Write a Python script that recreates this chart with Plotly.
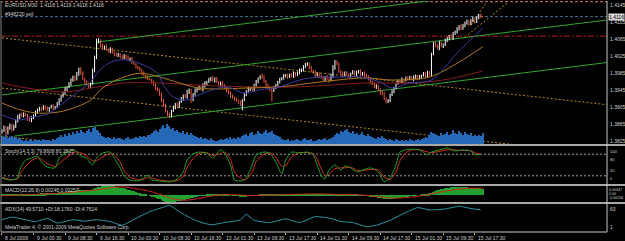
import plotly.graph_objects as go

# ---------------- data ----------------
BASE = 1.3800   # prices below are given in pips above this level
PIP = 0.0001

first_open_pips = 48
close_pips = [
    50, 58, 45, 55, 64, 52, 60,
    72, 82, 88, 85, 90, 86, 78, 74, 80, 86,
    94, 98, 103, 100, 106, 102, 98, 104, 108, 103, 106,
    114, 121,
    130, 138, 146, 152,
    160, 168, 176, 170,
    182, 196, 185, 172,
    165, 158, 154, 160,
    190, 222,
    258, 262,
    250, 244, 248, 240, 236, 242,
    234, 230, 226, 230, 224, 220, 226,
    222, 218, 220,
    210, 206, 200, 196, 192,
    184, 180, 176, 172, 170,
    164, 158, 150, 146,
    135, 122, 110, 96,
    88, 84,
    96, 104, 112, 108, 118,
    124, 132, 128,
    140, 146, 122, 134, 144,
    148, 152, 146, 156, 160,
    164, 170, 174, 168, 172,
    165, 158, 162, 154, 150,
    144, 138, 132, 128, 124,
    120, 116, 110, 122,
    135, 142, 148, 150, 146,
    156, 164, 172, 178, 176,
    166, 158, 150, 146, 144,
    150, 158, 164, 170, 174, 178,
    180, 176, 182, 178, 184, 180, 186, 190,
    194, 200, 204, 208, 198,
    190, 186, 180, 184, 178,
    174, 170, 176, 172, 168, 178,
    196, 212, 206,
    190, 184, 180, 186, 182, 178,
    184, 188, 180, 186, 190, 182, 186, 180,
    178, 170, 164, 160, 152, 156,
    146, 140, 136,
    124, 118, 122,
    134, 142, 150,
    160, 166, 164,
    170, 168, 174, 172, 176, 170, 174, 178, 172, 176,
    180, 184, 178, 186, 182,
    230, 256,
    250, 244, 256, 248, 252, 260,
    266, 272, 268, 278, 282,
    288, 294, 290, 298, 302,
    306, 300, 308, 312, 306,
    314, 322, 318, 316,
]
wick_up = [
    3, 4, 2, 5, 3, 2, 4, 3, 5, 2,
    4, 3, 2, 3, 5, 4, 2, 3, 4, 3,
    2, 4, 3, 5, 2, 3, 4, 2, 3, 5,
    4, 3, 6, 2, 4, 5, 3, 4, 6, 2,
    3, 4, 2, 3, 5, 3, 6, 4, 8, 5,
    3, 4, 2, 5, 3, 4, 3, 2, 4, 3,
    2, 3, 4, 3, 5, 2, 3, 4, 2, 3,
    4, 3, 5, 2, 4, 3, 2, 4, 3, 2,
    3, 4, 2, 3, 2, 4, 3, 5, 3, 4,
    2, 5, 3, 4, 6, 3, 2, 4, 5, 3,
    4, 3, 5, 6, 3, 4, 2, 5, 3, 4,
    2, 3, 4, 5, 3, 2, 4, 3, 2, 4,
    3, 5, 2, 4, 3, 6, 2, 3, 4, 5,
    3, 2, 6, 4, 3, 2, 4, 3, 5, 2,
    3, 4, 2, 5, 3, 4, 2, 3, 5, 4,
    3, 6, 2, 4, 5, 3, 2, 4, 3, 5,
    2, 3, 4, 3, 2, 5, 3, 6, 8, 4,
    3, 4, 2, 5, 3, 4, 3, 2, 4, 3,
    5, 3, 4, 2, 3, 4, 2, 5, 3, 4,
    3, 2, 4, 3, 5, 4, 2, 3, 4, 3,
    2, 4, 3, 5, 2, 3, 4, 3, 2, 6,
    4, 3, 5, 2, 4, 3, 5, 4, 3, 2,
    4, 3, 5, 4, 3, 6, 4, 3, 5, 4,
    3, 5, 4, 6, 3, 4, 5, 3, 4, 6,
    3, 4, 2, 3, 1,
]
wick_down = [
    5, 3, 6, 4, 3, 5, 2, 4, 3, 5,
    3, 4, 2, 5, 3, 4, 3, 2, 4, 3,
    4, 2, 3, 3, 4, 2, 5, 3, 2, 4,
    3, 2, 4, 3, 2, 5, 3, 4, 2, 3,
    4, 3, 5, 2, 4, 3, 2, 3, 4, 3,
    5, 3, 4, 2, 3, 4, 3, 5, 2, 3,
    4, 3, 2, 4, 3, 5, 3, 2, 4, 3,
    3, 4, 2, 5, 3, 2, 4, 3, 5, 4,
    3, 5, 4, 3, 4, 4, 3, 2, 4, 3,
    5, 3, 4, 2, 3, 4, 6, 3, 2, 4,
    3, 2, 4, 5, 3, 2, 4, 3, 5, 3,
    2, 4, 3, 2, 4, 3, 5, 3, 4, 2,
    3, 2, 12, 3, 4, 2, 5, 3, 4, 3,
    3, 2, 4, 3, 5, 3, 4, 25, 3, 2,
    4, 3, 2, 4, 3, 5, 2, 3, 4, 3,
    2, 4, 3, 5, 3, 2, 4, 3, 2, 4,
    3, 5, 2, 3, 4, 3, 5, 2, 4, 3,
    2, 4, 3, 5, 2, 3, 4, 3, 2, 4,
    3, 2, 4, 3, 5, 3, 2, 4, 3, 2,
    4, 3, 6, 3, 2, 4, 3, 5, 3, 4,
    3, 2, 4, 3, 5, 2, 4, 3, 2, 4,
    3, 4, 2, 5, 3, 4, 2, 3, 5, 3,
    4, 3, 5, 2, 4, 3, 2, 4, 3, 5,
    3, 4, 2, 4, 3, 5, 3, 4, 2, 3,
    4, 3, 2, 3, 0,
]
volume = [
    80, 70, 90, 60, 75, 85, 65, 70, 55, 60,
    40, 35, 45, 30, 50, 40, 35, 45, 38, 42, 30, 48, 36, 40, 44, 35, 50, 45,
    60, 75, 90, 70, 100, 85, 110, 95, 120, 105, 130, 115, 140, 125, 110, 135, 150, 120, 160, 170, 145, 130, 110,
    80, 70, 65, 75, 60, 55, 70, 50, 65, 60, 55, 45, 60, 70, 55, 50, 65, 75, 60, 80, 70, 85, 75, 90, 95,
    110, 130, 140, 120, 150, 170, 190, 160, 200, 180, 150, 160, 130, 140, 120, 110, 130, 100, 120, 90, 110, 95,
    85, 70, 60, 75, 55, 65, 50, 45, 60, 40,
    35, 30, 45, 50, 40, 55, 60, 45, 70, 50, 65, 55, 75, 60, 80,
    90, 100, 85, 110, 120, 95, 105, 130, 115, 100, 125, 140, 110, 120, 130, 105, 90, 80, 70,
    50, 45, 40, 55, 35, 40, 30, 45, 50, 40, 35, 55, 60, 45, 40, 50, 35, 30, 45, 55, 40, 50, 60, 45, 55, 65, 70,
    90, 110, 100, 130, 120, 140, 150, 125, 110, 130, 100, 115, 95, 105, 120, 90, 80, 100, 85, 75,
    60, 55, 70, 65, 80, 60, 50, 45, 55, 40, 35, 50, 45, 30, 40, 35, 45, 30, 50, 40, 35, 45, 50, 40,
    55, 60, 70, 65, 90, 120, 110, 100, 95,
    80, 110, 95, 100, 120, 90, 105, 140, 115, 100, 130, 110, 95, 120, 100, 90, 110, 85, 95, 80, 90, 85, 110,
]

# moving averages (bar index, pips)
ma_fast_bar = [0, 8, 16, 24, 33, 40, 45, 48, 52, 57, 63, 72, 79, 82, 87, 94, 100, 107, 114, 123, 131, 141,
               151, 161, 172, 182, 192, 198, 207, 218, 231, 244]
ma_fast_pips = [87, 75, 82, 91, 122, 146, 164, 183, 202, 214, 216, 204, 185, 157, 129, 122, 134, 146, 153, 138,
                146, 153, 169, 176, 176, 176, 164, 150, 162, 169, 232, 291]
ma_mid_bar = [0, 9, 19, 29, 38, 45, 50, 55, 62, 70, 80, 90, 100, 111, 123, 141, 161, 184, 198, 217, 232, 244]
ma_mid_pips = [115, 99, 91, 94, 106, 122, 146, 162, 176, 185, 176, 162, 150, 148, 150, 153, 164, 174, 169, 176,
               211, 247]
ma_slow_bar = [0, 9, 19, 33, 45, 55, 62, 80, 100, 123, 151, 184, 207, 224, 244]
ma_slow_pips = [162, 153, 146, 141, 150, 157, 162, 162, 157, 153, 153, 162, 162, 169, 190]

# trend lines: (bar0, pips0, bar1, pips1)
channel_lines = [
    (48, 258, 307, 407),
    (0, 134, 307, 310),
    (6, 37, 307, 210),
]
dotted_lines = [
    (0, 268, 307, 111),
    (0, 150, 307, -7),
    (0, 37, 307, -120),
    (235, 270, 257, 352),
    (238, 298, 246, 352),
]
level_tp = 1.4153
level_order = 1.4118
level_stop = 1.4072
last_price = 1.4116

# x axis labels
tick_bars = [0, 16, 32, 48, 64, 80, 96, 112, 128, 144, 160, 176, 192, 208, 224, 240]
tick_text = ["8 Jul 2009", "9 Jul 00:30", "9 Jul 08:30", "9 Jul 16:30", "10 Jul 00:30", "10 Jul 08:30",
             "10 Jul 16:30", "13 Jul 01:30", "13 Jul 09:30", "13 Jul 17:30", "14 Jul 01:30", "14 Jul 09:30",
             "14 Jul 17:30", "15 Jul 01:30", "15 Jul 09:30", "15 Jul 17:30"]
price_ticks = [1.4145, 1.4105, 1.4065, 1.4025, 1.3985, 1.3945, 1.3905, 1.3865, 1.3825]

# Stochastic (bar, value)
stoch_bar = [0, 4, 8, 9, 12, 15, 18, 20, 23, 27, 29, 33, 37, 40, 43, 46, 48, 51, 55, 57, 60, 62, 65, 69, 72, 74,
             76, 80, 85, 89, 92, 94, 97, 100, 104, 107, 111, 113, 116, 118, 122, 124, 127, 129, 133, 136, 139, 142,
             144, 147, 151, 155, 158, 160, 162, 164, 166, 169, 172, 174, 177, 180, 183, 187, 191, 194, 197, 200,
             202, 205, 208, 212, 216, 218, 222, 226, 230, 234, 238, 240, 243]
stoch_main = [14, 8, 14, 36, 64, 69, 75, 58, 44, 42, 69, 86, 92, 75, 69, 50, 69, 83, 86, 69, 42, 19, 8, 6, 14, 22,
              8, 6, 3, 11, 31, 64, 81, 86, 83, 69, 92, 83, 50, 8, 6, 14, 50, 78, 86, 83, 58, 25, 64, 86, 83, 86,
              78, 50, 22, 11, 36, 50, 36, 47, 42, 31, 36, 42, 31, 3, 14, 50, 86, 92, 94, 92, 78, 86, 92, 97, 89,
              92, 89, 78, 80]
stoch_signal = [16, 10, 11, 24, 46, 62, 70, 66, 54, 46, 54, 72, 86, 84, 74, 62, 62, 72, 82, 78, 58, 34, 16, 9, 10,
                16, 14, 8, 5, 7, 18, 44, 68, 82, 84, 76, 82, 86, 66, 30, 10, 10, 30, 60, 80, 84, 72, 46, 48, 72,
                84, 84, 82, 66, 40, 20, 24, 40, 42, 42, 44, 36, 34, 38, 36, 16, 10, 30, 62, 84, 92, 92, 86, 84, 88,
                92, 92, 90, 90, 84, 80]

# MACD main per bar (units of 0.00001)
macd_main = [
    10, 15, 12, 18, 20, 25, 22, 28, 30, 35, 38, 40, 42, 40, 38, 42, 45, 50, 55, 60,
    65, 70, 72, 78, 80, 85, 88, 92, 98, 105, 112, 120, 128, 135,
    142, 150, 160, 170, 182, 190, 195, 198, 200, 202, 205, 215, 235, 260, 285, 305, 320,
    332, 340, 347, 345, 342, 338,
    330, 320, 305, 290, 272, 255, 235, 212, 190, 165,
    140, 118, 95, 72, 50, 32, 15, 0,
    -20, -45, -70, -100, -130, -160, -190, -215, -238, -252,
    -256, -255, -250, -242, -232, -220,
    -205, -188, -170, -150, -130, -110, -90, -70, -50, -30,
    -15, -5, 5, 12, 20, 28, 32, 35, 36, 35, 32, 28,
    22, 15, 8, 0, -8, -15, -22, -28, -32, -35, -36, -34, -30,
    -25, -18, -10, -2, 6, 12, 18, 20, 20, 18, 16, 15, 16, 18, 20,
    22, 25, 27, 30, 32, 34, 36, 40, 44, 48, 52, 55, 58, 58, 55, 52, 48, 45, 42, 40,
    36, 32, 28, 25, 22, 20, 22, 26, 30, 32, 30, 28, 26, 24, 22, 22, 20, 18, 15, 12, 8,
    2, -5, -12, -20, -30, -42, -55, -68, -80, -95, -108, -120, -132, -142, -150, -148, -140, -128, -115,
    -100, -88, -75, -62, -50, -40, -30, -20, -12, -5,
    0, 5, 10, 14, 18, 40, 70, 100, 130, 155, 178, 200, 220, 238, 255, 270, 282,
    292, 300, 305, 308, 310, 308, 305, 300, 295, 290, 285, 278, 270, 262, 255, 250, 245,
]
macd_sig_bar = [0, 10, 20, 30, 40, 50, 57, 62, 68, 75, 80, 86, 92, 98, 104, 110, 118, 125, 132, 140, 150, 160,
                170, 180, 190, 198, 205, 212, 220, 228, 236, 244]
macd_sig = [-20, 15, 40, 80, 140, 220, 300, 310, 250, 150, 40, -120, -190, -150, -60, 10, 20, -10, 0, 15, 35, 48,
            30, 18, -40, -110, -90, -30, 80, 190, 260, 257]

# ADX (bar, value)
adx_bar = [0, 5, 10, 17, 23, 28, 36, 42, 48, 55, 61, 68, 75, 82, 85, 90, 98, 106, 113, 121, 124, 128, 136, 144,
           151, 159, 167, 172, 178, 185, 190, 197, 204, 211, 217, 225, 232, 238, 243]
adx_val = [28, 34, 30, 24, 31, 21, 28, 25, 28, 24, 16, 31, 46, 56, 60, 46, 27, 17, 22, 28, 40, 27, 22, 30, 22, 35,
           31, 24, 22, 13, 16, 27, 42, 55, 50, 52, 58, 53, 50]

# ---------------- layout geometry (pixels) ----------------
W, H = 625, 241
ML, MR, MT, MB = 1, 18, 1, 9
PW = W - ML - MR
PH = H - MT - MB
BOTTOM = H - MB


def py(px):  # pixel row -> paper y
    return (BOTTOM - px) / PH


def pxp(px):  # pixel column -> paper x
    return (px - ML) / PW


DOM_MAIN = [py(144), 1.0]
DOM_STO = [py(184), py(146)]
DOM_MACD = [py(202), py(186)]
DOM_ADX = [0.0, py(204)]

TXT = "#d0d0d0"
FONT = "Liberation Sans"

# ---------------- build ----------------
price = lambda p: BASE + p * PIP
opens = [first_open_pips] + close_pips[:-1]
n = len(close_pips)

bull_x, bull_y, bear_x, bear_y = [], [], [], []
for i in range(n):
    o, c = opens[i], close_pips[i]
    hi = max(o, c) + wick_up[i]
    lo = min(o, c) - wick_down[i]
    if c >= o:
        bull_x += [i, i, None]
        bull_y += [price(lo), price(hi), None]
    else:
        bear_x += [i, i, None]
        bear_y += [price(lo), price(hi), None]

fig = go.Figure()

# volumes
fig.add_trace(go.Bar(x=list(range(len(volume))), y=volume, width=0.55, marker=dict(color="#2668b8", line_width=0),
                     yaxis="y5"))

# dotted lines
for (b0, p0, b1, p1) in dotted_lines:
    fig.add_trace(go.Scatter(x=[b0, b1], y=[price(p0), price(p1)], mode="lines",
                             line=dict(color="#b08a1a", width=1, dash="2px,2px")))
# horizontal levels
fig.add_trace(go.Scatter(x=[-1, 320], y=[level_tp, level_tp], mode="lines",
                         line=dict(color="#e07a6a", width=1, dash="3px,2px")))
fig.add_trace(go.Scatter(x=[-1, 320], y=[level_order, level_order], mode="lines",
                         line=dict(color="#4a7090", width=1, dash="3px,2px")))
fig.add_trace(go.Scatter(x=[-1, 320], y=[level_stop, level_stop], mode="lines",
                         line=dict(color="#b01818", width=1, dash="6px,2px,2px,2px")))
# channel lines
for (b0, p0, b1, p1) in channel_lines:
    fig.add_trace(go.Scatter(x=[b0, b1], y=[price(p0), price(p1)], mode="lines",
                             line=dict(color="#2fa52f", width=1)))

# candles
fig.add_trace(go.Scatter(x=bull_x, y=bull_y, mode="lines", line=dict(color="#ffffff", width=1)))
fig.add_trace(go.Scatter(x=bear_x, y=bear_y, mode="lines", line=dict(color="#ec5a3a", width=1)))

# moving averages
for bars, vals, col in [(ma_slow_bar, ma_slow_pips, "#8a1c1c"), (ma_mid_bar, ma_mid_pips, "#b07818"),
                        (ma_fast_bar, ma_fast_pips, "#3a3aa0")]:
    fig.add_trace(go.Scatter(x=bars, y=[price(v) for v in vals], mode="lines",
                             line=dict(color=col, width=1, shape="spline", smoothing=0.9)))

# stochastic
for lvl in (80, 20):
    fig.add_trace(go.Scatter(x=[-1, 320], y=[lvl, lvl], mode="lines", yaxis="y2",
                             line=dict(color="#a0a0a0", width=1, dash="2px,2px")))
fig.add_trace(go.Scatter(x=stoch_bar, y=stoch_signal, mode="lines", yaxis="y2",
                         line=dict(color="#d83020", width=1, shape="spline", smoothing=0.6)))
fig.add_trace(go.Scatter(x=stoch_bar, y=stoch_main, mode="lines", yaxis="y2",
                         line=dict(color="#22a022", width=1, shape="spline", smoothing=0.6)))

# MACD
fig.add_trace(go.Bar(x=list(range(len(macd_main))), y=[v * 1e-5 for v in macd_main], width=0.55, yaxis="y3",
                     marker=dict(color="#22a030", line_width=0)))
fig.add_trace(go.Scatter(x=macd_sig_bar, y=[v * 1e-5 for v in macd_sig], mode="lines", yaxis="y3",
                         line=dict(color="#d02818", width=1, shape="spline", smoothing=0.8)))

# ADX
fig.add_trace(go.Scatter(x=adx_bar, y=adx_val, mode="lines", yaxis="y4",
                         line=dict(color="#2a9aa8", width=1, shape="spline", smoothing=0.5)))

ax_common = dict(showgrid=False, zeroline=False, showticklabels=False, fixedrange=True)
main_range = [price(357 - 2.35 * 144), price(357 - 2.35 * 1)]

fig.update_layout(
    width=W, height=H, margin=dict(l=ML, r=MR, t=MT, b=MB),
    paper_bgcolor="#000000", plot_bgcolor="#000000", showlegend=False, bargap=0,
    xaxis=dict(range=[-0.5, 307.1], domain=[0, 1], anchor="y4", tickvals=tick_bars, ticks="outside", ticklen=2,
               tickcolor="#b0b0b0", showline=False, **ax_common),
    yaxis=dict(domain=DOM_MAIN, range=main_range, anchor="x", **ax_common),
    yaxis5=dict(domain=DOM_MAIN, range=[0, 1430], overlaying="y", anchor="x", **ax_common),
    yaxis2=dict(domain=DOM_STO, range=[-2.8, 102.8], anchor="x", **ax_common),
    yaxis3=dict(domain=DOM_MACD, range=[-0.00256, 0.00347], anchor="x", **ax_common),
    yaxis4=dict(domain=DOM_ADX, range=[1, 63], anchor="x", **ax_common),
)

shapes = []
# panel separators
for top, bot in [(144, 146), (184, 186), (202, 204)]:
    shapes.append(dict(type="rect", xref="paper", yref="paper", x0=-0.01, x1=1.05, y0=py(bot), y1=py(top),
                       fillcolor="#a8a8a8", line_width=0, layer="above"))
# frame lines
shapes.append(dict(type="line", xref="paper", yref="paper", x0=1, x1=1, y0=0, y1=1,
                   line=dict(color="#c8c8c8", width=1), layer="above"))
shapes.append(dict(type="line", xref="paper", yref="paper", x0=0, x1=0, y0=0, y1=1,
                   line=dict(color="#808080", width=1), layer="above"))
shapes.append(dict(type="line", xref="paper", yref="paper", x0=0, x1=1, y0=0, y1=0,
                   line=dict(color="#c8c8c8", width=1), layer="above"))
fig.update_layout(shapes=shapes)

ann = []
f5 = dict(family=FONT, size=5, color=TXT)
f4 = dict(family=FONT, size=4, color=TXT)
# x labels
for b, t in zip(tick_bars, tick_text):
    ann.append(dict(x=b, y=0, xref="x", yref="paper", text=t, showarrow=False, xanchor="left", yanchor="top",
                    yshift=-1, xshift=1, font=f5))
# price labels
for p in price_ticks:
    ann.append(dict(x=1, y=p, xref="paper", yref="y", text=f"{p:.4f}", showarrow=False, xanchor="left",
                    yanchor="middle", xshift=1, font=f5))
ann.append(dict(x=1, y=last_price, xref="paper", yref="y", text=f"{last_price:.4f}", showarrow=False,
                xanchor="left", yanchor="middle", xshift=1, bgcolor="#d8d8d8", borderpad=0,
                font=dict(family=FONT, size=5, color="#000000")))
# stochastic labels
for v, anc, ys in [(100, "top", 0), (80, "top", -1), (20, "bottom", 1), (0, "bottom", 0)]:
    ann.append(dict(x=1, y=v, xref="paper", yref="y2", text=str(v), showarrow=False, xanchor="left",
                    yanchor=anc, xshift=1, yshift=ys, font=f4))
for v, t, anc, ys in [(0.00347, "0.00347", "top", 0), (0.0, "0.00", "middle", 1),
                      (-0.00256, "-0.00256", "bottom", 0)]:
    ann.append(dict(x=1, y=v, xref="paper", yref="y3", text=t, showarrow=False, xanchor="left",
                    yanchor=anc, xshift=0, yshift=ys, font=dict(family=FONT, size=3.6, color=TXT)))
for v, anc in [(63, "top"), (1, "bottom")]:
    ann.append(dict(x=1, y=v, xref="paper", yref="y4", text=str(v), showarrow=False, xanchor="left",
                    yanchor=anc, xshift=1, font=f5))
# panel titles
for px_y, t in [(5, "EURUSD,M30  1.4118 1.4119 1.4116 1.4116"), (14, "#948220 sell"),
                (151, "Stoch(14,3,3) 79.8608 80.3825"), (190, "MACD(12,26,9) 0.00245 0.00257"),
                (209, "ADX(14) 49.5710 +DI:18.1760 -DI:4.7614"),
                (227, "MetaTrader 4, © 2001-2009 MetaQuotes Software Corp.")]:
    ann.append(dict(x=pxp(3), y=py(px_y), xref="paper", yref="paper", text=t, showarrow=False, xanchor="left",
                    yanchor="middle", font=f5))
fig.update_layout(annotations=ann)

fig.write_html("out.html")
